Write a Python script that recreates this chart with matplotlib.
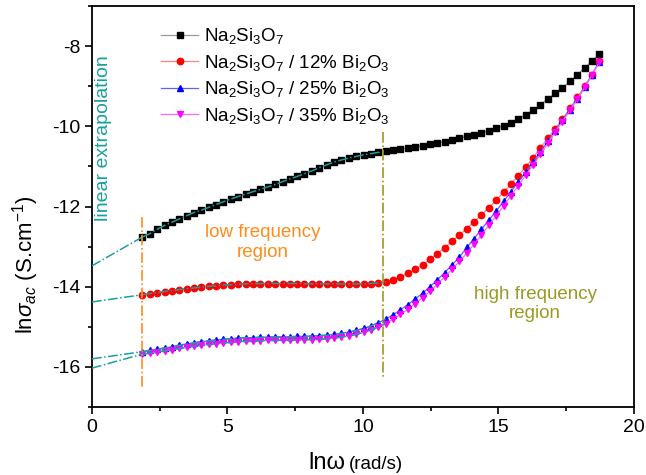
import matplotlib
matplotlib.use('Agg')
import matplotlib.pyplot as plt
from matplotlib.ticker import MultipleLocator

plt.rcParams['font.family'] = ['Liberation Sans', 'DejaVu Sans']
plt.rcParams['mathtext.fontset'] = 'custom'
plt.rcParams['mathtext.rm'] = 'Liberation Sans'
plt.rcParams['mathtext.it'] = 'Liberation Sans:italic'
plt.rcParams['axes.unicode_minus'] = False

# ln(omega) grid
ln_w = [1.86, 2.13, 2.40, 2.68, 2.95, 3.22, 3.49, 3.76, 4.04, 4.31,
        4.58, 4.85, 5.12, 5.40, 5.67, 5.94, 6.21, 6.48, 6.76, 7.03,
        7.30, 7.57, 7.84, 8.12, 8.39, 8.66, 8.93, 9.20, 9.48, 9.75,
        10.02, 10.29, 10.56, 10.84, 11.11, 11.38, 11.65, 11.92, 12.20, 12.47,
        12.74, 13.01, 13.28, 13.56, 13.83, 14.10, 14.37, 14.64, 14.92, 15.19,
        15.46, 15.73, 16.00, 16.28, 16.55, 16.82, 17.09, 17.36, 17.64, 17.91,
        18.18, 18.45, 18.72]

s_0 = [-12.76, -12.68, -12.57, -12.47, -12.39, -12.31, -12.23, -12.15, -12.09, -12.02,
       -11.95, -11.88, -11.81, -11.75, -11.69, -11.63, -11.57, -11.51, -11.45, -11.38,
       -11.31, -11.25, -11.18, -11.11, -11.03, -10.96, -10.89, -10.84, -10.79, -10.75,
       -10.71, -10.68, -10.65, -10.62, -10.59, -10.57, -10.54, -10.51, -10.48, -10.45,
       -10.42, -10.39, -10.35, -10.30, -10.25, -10.21, -10.16, -10.11, -10.05, -9.98,
       -9.91, -9.82, -9.71, -9.59, -9.46, -9.32, -9.18, -9.04, -8.88, -8.71,
       -8.54, -8.37, -8.20]

s_12 = [-14.20, -14.17, -14.15, -14.12, -14.10, -14.07, -14.05, -14.03, -14.01, -13.99,
        -13.98, -13.96, -13.95, -13.94, -13.93, -13.93, -13.92, -13.92, -13.92, -13.92,
        -13.92, -13.92, -13.93, -13.93, -13.93, -13.93, -13.93, -13.93, -13.93, -13.93,
        -13.93, -13.92, -13.91, -13.88, -13.83, -13.76, -13.67, -13.57, -13.45, -13.32,
        -13.18, -13.03, -12.87, -12.71, -12.55, -12.38, -12.21, -12.03, -11.84, -11.64,
        -11.44, -11.23, -11.01, -10.78, -10.54, -10.30, -10.06, -9.81, -9.55, -9.28,
        -9.00, -8.71, -8.38]

s_25 = [-15.62, -15.59, -15.56, -15.53, -15.50, -15.46, -15.43, -15.40, -15.37, -15.35,
        -15.33, -15.31, -15.30, -15.28, -15.27, -15.27, -15.26, -15.26, -15.25, -15.25,
        -15.25, -15.24, -15.24, -15.23, -15.22, -15.21, -15.19, -15.16, -15.13, -15.09,
        -15.04, -14.98, -14.90, -14.81, -14.70, -14.58, -14.45, -14.31, -14.16, -14.00,
        -13.83, -13.65, -13.46, -13.26, -13.02, -12.80, -12.57, -12.34, -12.11, -11.87,
        -11.63, -11.39, -11.14, -10.89, -10.63, -10.37, -10.11, -9.85, -9.58, -9.31,
        -9.02, -8.71, -8.39]

s_35 = [-15.68, -15.66, -15.63, -15.60, -15.57, -15.54, -15.51, -15.48, -15.46, -15.44,
        -15.42, -15.40, -15.39, -15.37, -15.36, -15.35, -15.35, -15.34, -15.34, -15.33,
        -15.33, -15.33, -15.32, -15.32, -15.31, -15.30, -15.28, -15.26, -15.23, -15.19,
        -15.14, -15.08, -15.01, -14.92, -14.81, -14.69, -14.56, -14.42, -14.27, -14.11,
        -13.94, -13.76, -13.57, -13.37, -13.16, -12.94, -12.71, -12.47, -12.23, -11.98,
        -11.73, -11.48, -11.22, -10.96, -10.69, -10.42, -10.15, -9.88, -9.60, -9.32,
        -9.03, -8.72, -8.40]

# intercepts of the linear extrapolation at ln(omega) = 0
intercepts = [-13.48, -14.38, -15.80, -16.03]
n_fit = 34  # points covered by the extrapolation line

labels = ['Na$_2$Si$_3$O$_7$',
          'Na$_2$Si$_3$O$_7$ / 12% Bi$_2$O$_3$',
          'Na$_2$Si$_3$O$_7$ / 25% Bi$_2$O$_3$',
          'Na$_2$Si$_3$O$_7$ / 35% Bi$_2$O$_3$']
colors = ['black', 'red', 'blue', 'magenta']
line_colors = ['#9a9a9a', '#ff8080', '#6060ff', '#ff66ff']
markers = ['s', 'o', '^', 'v']
sizes = [3.8, 4.6, 4.6, 4.6]

teal = '#1a9e9e'
orange = '#ff8c1a'
olive = '#9a9a22'

fig = plt.figure(figsize=(6.46, 4.75), dpi=100)
ax = fig.add_axes([0.1424, 0.1432, 0.839, 0.844])

series = [s_0, s_12, s_25, s_35]
for ys, b in zip(series, intercepts):
    ax.plot([0, ln_w[0]], [b, ys[0]], color=teal, ls='-.', lw=1.1, zorder=3)
    ax.plot(ln_w[:n_fit], ys[:n_fit], color=teal, ls='-.', lw=1.1, zorder=3)

for ys, lab, c, lc, m, ms in zip(series, labels, colors, line_colors, markers, sizes):
    ax.plot(ln_w, ys, color=lc, lw=0.9, marker=m, ms=ms, mfc=c, mec=c,
            label=lab, zorder=2)

ax.plot([1.86, 1.86], [-12.25, -16.55], color=orange, ls='-.', lw=1.2, zorder=4)
ax.plot([10.75, 10.75], [-10.15, -16.25], color=olive, ls='-.', lw=1.2, zorder=4)

ax.text(0.42, -12.35, 'linear extrapolation', color=teal, fontsize=14,
        rotation=90, ha='center', va='bottom')
ax.text(6.3, -12.9, 'low frequency\nregion', color=orange, fontsize=13.5,
        ha='center', va='center', linespacing=1.2)
ax.text(16.35, -14.43, 'high frequency\nregion', color=olive, fontsize=13.5,
        ha='center', va='center', linespacing=1.2)

ax.set_xlim(0, 20)
ax.set_ylim(-17, -7)
ax.xaxis.set_major_locator(MultipleLocator(5))
ax.xaxis.set_minor_locator(MultipleLocator(2.5))
ax.yaxis.set_major_locator(MultipleLocator(2))
ax.yaxis.set_minor_locator(MultipleLocator(1))
ax.tick_params(which='both', direction='out', labelsize=14, top=False, right=False)
ax.tick_params(which='major', length=5, width=1.2)
ax.tick_params(which='minor', length=3, width=1.2)
for sp in ax.spines.values():
    sp.set_linewidth(1.3)

ax.set_ylabel(r'ln$\sigma_{ac}$ (S.cm$^{-1}$)', fontsize=16, va='center')
ax.yaxis.set_label_coords(-0.122, 0.354)

# x label: "lnω" larger than "(rad/s)"
fig.text(345 / 646, 0.012, 'lnω', fontsize=17, ha='right', va='baseline')
fig.text(349 / 646, 0.012, '(rad/s)', fontsize=13.5, ha='left', va='baseline')

ax.legend(loc='upper left', bbox_to_anchor=(0.127, 0.95), frameon=False,
          fontsize=13.5, handlelength=2.0, handletextpad=0.3, labelspacing=0.35,
          borderaxespad=0, borderpad=0)

fig.savefig('out.png', dpi=100)
